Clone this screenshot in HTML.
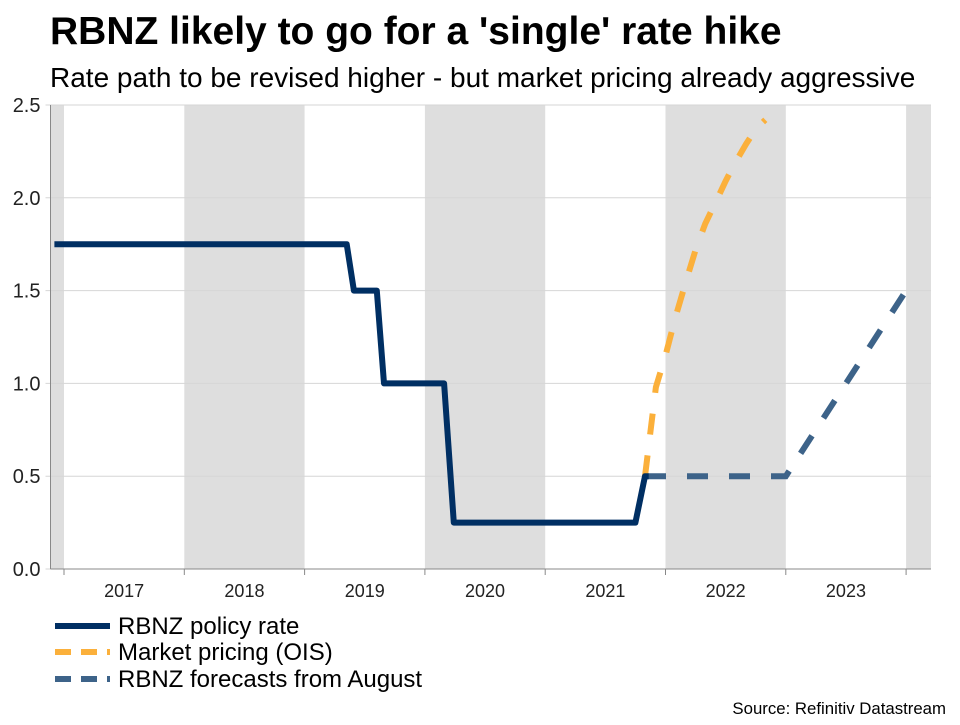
<!DOCTYPE html>
<html><head><meta charset="utf-8"><style>
body{margin:0;background:#fff;font-family:"Liberation Sans",sans-serif;}
</style></head><body>
<svg id="c" width="960" height="720" xmlns="http://www.w3.org/2000/svg">
<text x="50" y="44" font-size="39" font-weight="bold" fill="#000">RBNZ likely to go for a 'single' rate hike</text>
<text x="50" y="87" font-size="28" fill="#000">Rate path to be revised higher - but market pricing already aggressive</text>
<g id="bands"></g><g id="grid"></g><g id="axes"></g><g id="series"></g>
<g>
<line x1="55" y1="626" x2="110" y2="626" stroke="#002f63" stroke-width="6"/>
<text x="118" y="634" font-size="24">RBNZ policy rate</text>
<line x1="55" y1="652" x2="110" y2="652" stroke="#fbb03b" stroke-width="6" stroke-dasharray="16,10"/>
<text x="118" y="660" font-size="24">Market pricing (OIS)</text>
<line x1="55" y1="679" x2="110" y2="679" stroke="#3d6389" stroke-width="6" stroke-dasharray="16,10"/>
<text x="118" y="687" font-size="24">RBNZ forecasts from August</text>
</g>
<text x="946" y="714" font-size="16.8" text-anchor="end">Source: Refinitiv Datastream</text>
</svg>
<script>
const yTicks=[0,0.5,1,1.5,2,2.5];
const yTickLabels=["0.0","0.5","1.0","1.5","2.0","2.5"];
const years=[2017,2018,2019,2020,2021,2022,2023];
const shadedYears=[2016,2018,2020,2022,2024];
const policyT=[2016.92,2019.35,2019.41,2019.6,2019.66,2020.16,2020.24,2021.75,2021.83,2021.86];
const policyV=[1.75,1.75,1.5,1.5,1.0,1.0,0.25,0.25,0.5,0.5];
const oisT=[2021.83,2021.92,2022.0,2022.08,2022.17,2022.25,2022.33,2022.42,2022.5,2022.58,2022.67,2022.75,2022.83];
const oisV=[0.5,0.98,1.15,1.35,1.55,1.72,1.86,1.98,2.09,2.19,2.29,2.37,2.42];
const fcT=[2021.83,2023.0,2024.0];
const fcV=[0.5,0.5,1.5];
const NS="http://www.w3.org/2000/svg";
const X0=50.5,X1=931,Y0=569,Y1=105;
const x=t=>64+(t-2017)*120.3;
const y=v=>Y0-(v-0)/(2.5)*(Y0-Y1);
function mk(tag,attrs,parent){const e=document.createElementNS(NS,tag);for(const k in attrs)e.setAttribute(k,attrs[k]);document.getElementById(parent).appendChild(e);return e;}
shadedYears.forEach(yr=>{const a=Math.max(X0,x(yr)),b=Math.min(X1,x(yr+1));
const r=mk('rect',{x:a,y:Y1,width:b-a,height:Y0-Y1,fill:'#dedede'},'bands');

});
yTicks.forEach((v,i)=>{
const l=mk('line',{x1:X0-5,x2:X1,y1:y(v),y2:y(v),stroke:'#d6d6d6','stroke-width':1},'grid');


const t=mk('text',{x:X0-10,y:y(v)+7,'font-size':20,'text-anchor':'end',fill:'#222'},'axes');t.textContent=yTickLabels[i];

});
const ax=mk('line',{x1:X0,x2:X0,y1:Y1,y2:Y0,stroke:'#888'},'axes');


const bx=mk('line',{x1:X0,x2:X1,y1:Y0,y2:Y0,stroke:'#888'},'axes');


years.concat([2024]).forEach(yr=>{const tk=mk('line',{x1:x(yr),x2:x(yr),y1:Y0,y2:Y0+6,stroke:'#888'},'axes');

});
years.forEach(yr=>{const t=mk('text',{x:x(yr+0.5),y:Y0+28,'font-size':18,'text-anchor':'middle',fill:'#222'},'axes');t.textContent=yr;

});
function path(T,V){return T.map((t,i)=>(i?'L':'M')+x(t).toFixed(1)+','+y(V[i]).toFixed(1)).join(' ');}
const p3=mk('path',{d:path(fcT,fcV),fill:'none',stroke:'#3d6389','stroke-width':6,'stroke-dasharray':'21,21'},'series');


const p2=mk('path',{d:path(oisT,oisV),fill:'none',stroke:'#fbb03b','stroke-width':6,'stroke-dasharray':'21,21'},'series');


const p1=mk('path',{d:path(policyT,policyV),fill:'none',stroke:'#002f63','stroke-width':6,'stroke-linejoin':'round'},'series');


</script>
</body></html>
